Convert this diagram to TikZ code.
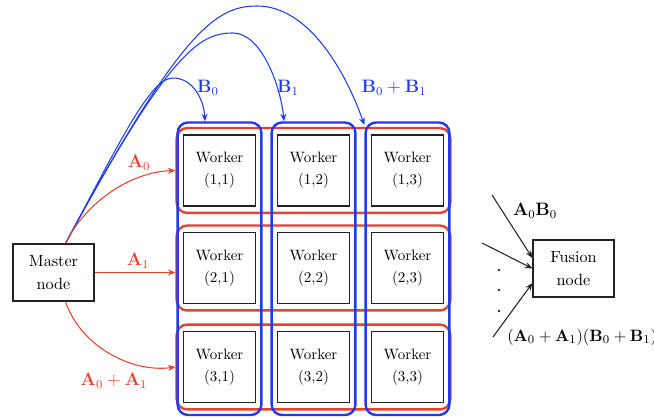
\documentclass[tikz,border=0pt]{standalone}
\usepackage{amsmath,amssymb}
\usepackage{tikz}
\usetikzlibrary{arrows.meta,positioning,calc,fit}
\definecolor{rowred}{HTML}{E8412C}
\definecolor{colblue}{HTML}{1F3BF0}
\definecolor{ink}{HTML}{222222}

\begin{document}
\begin{tikzpicture}[x=0.6667pt, y=-0.6667pt, >={Stealth[length=5pt,width=4pt]},
  worker/.style={draw=ink, line width=1.1pt, minimum width=48pt, minimum height=47.5pt, align=center, inner sep=0pt, font=\fontsize{10}{14.5}\selectfont},
  plainbox/.style={draw=ink, line width=0.8pt, minimum width=54pt, minimum height=38pt, align=center, inner sep=0pt, font=\fontsize{10.8}{15.5}\selectfont},
  rowbox/.style={draw=rowred, line width=1.6pt, rounded corners=7pt, inner sep=4pt},
  colbox/.style={draw=colblue, line width=1.6pt, rounded corners=7pt, inner xsep=3.4pt, inner ysep=7.7pt},
  redarr/.style={->, rowred, line width=0.7pt},
  bluearr/.style={->, colblue, line width=0.7pt},
  inarr/.style={->, ink, line width=0.7pt},
  lbl/.style={font=\large}]
\useasboundingbox (0,0) rectangle (654,419);
% worker grid
\foreach \r/\y in {1/170.5,2/268,3/367}
  \foreach \c/\x in {1/219.5,2/313.5,3/407.5}
    \node[worker] (w\r\c) at (\x,\y) {Worker\\(\r,\c)};
% row and column groups
\node[rowbox, fit=(w11)(w13)] (row1) {};
\node[rowbox, fit=(w21)(w23)] (row2) {};
\node[rowbox, fit=(w31)(w33)] (row3) {};
\node[colbox, fit=(w11)(w31)] (col1) {};
\node[colbox, fit=(w12)(w32)] (col2) {};
\node[colbox, fit=(w13)(w33)] (col3) {};
% master and fusion
\node[plainbox] (master) at (53.5,272.5) {Master\\node};
\node[plainbox] (fusion) at (573.5,268.5) {Fusion\\node};
\coordinate (mtop) at ([xshift=8pt]master.north);
\coordinate (mbot) at ([xshift=8pt]master.south);
% B arcs
\draw[bluearr] (mtop) .. controls (120,142) and (150,78) .. (173,78) .. controls (193,78) and (204,100) .. ([xshift=-9.7pt]col1.north);
\draw[bluearr] (mtop) .. controls (170,50) and (200,33) .. (233,33) .. controls (262,33) and (281,88) .. ([xshift=-19.7pt]col2.north);
\draw[bluearr] (mtop) .. controls (180,32) and (215,6) .. (257,6) .. controls (308,6) and (345,70) .. ([yshift=-2.5pt]col3.north west);
\node[lbl, text=colblue] (b0) at (208,88) {$\mathbf{B}_0$};
\node[lbl, text=colblue] (b1) at (288,88) {$\mathbf{B}_1$};
\node[lbl, text=colblue] (b01) at (394,88) {$\mathbf{B}_0+\mathbf{B}_1$};
% A arrows
\draw[redarr] (mtop) .. controls (85,203) and (130,172) .. (row1.west);
\draw[redarr] (master.east) -- (master.east -| row2.west);
\draw[redarr] (mbot) .. controls (80,345) and (130,373) .. (row3.west);
\node[lbl, text=rowred] (a0) at (139,163) {$\mathbf{A}_0$};
\node[lbl, text=rowred] (a1) at (138,261) {$\mathbf{A}_1$};
\node[lbl, text=rowred] (a01) at (114,381) {$\mathbf{A}_0+\mathbf{A}_1$};
% fusion inputs
\coordinate (in1) at (492,195);
\coordinate (in2) at (482,243);
\coordinate (in3) at (493,337);
\draw[inarr] (in1) -- ([yshift=7pt]fusion.west);
\draw[inarr] (in2) -- (fusion.west);
\draw[inarr] (in3) -- ([yshift=-9.7pt]fusion.west);
\foreach \y in {270,290,311}
  \fill[ink] (499,\y) circle (1.4);
\node[lbl] (p00) at (535,211) {$\mathbf{A}_0\mathbf{B}_0$};
\node[anchor=west, inner sep=0pt, font=\fontsize{11}{13}\selectfont] (pall) at (507,337) {$(\mathbf{A}_0+\mathbf{A}_1)(\mathbf{B}_0+\mathbf{B}_1)$};
\end{tikzpicture}
\end{document}
